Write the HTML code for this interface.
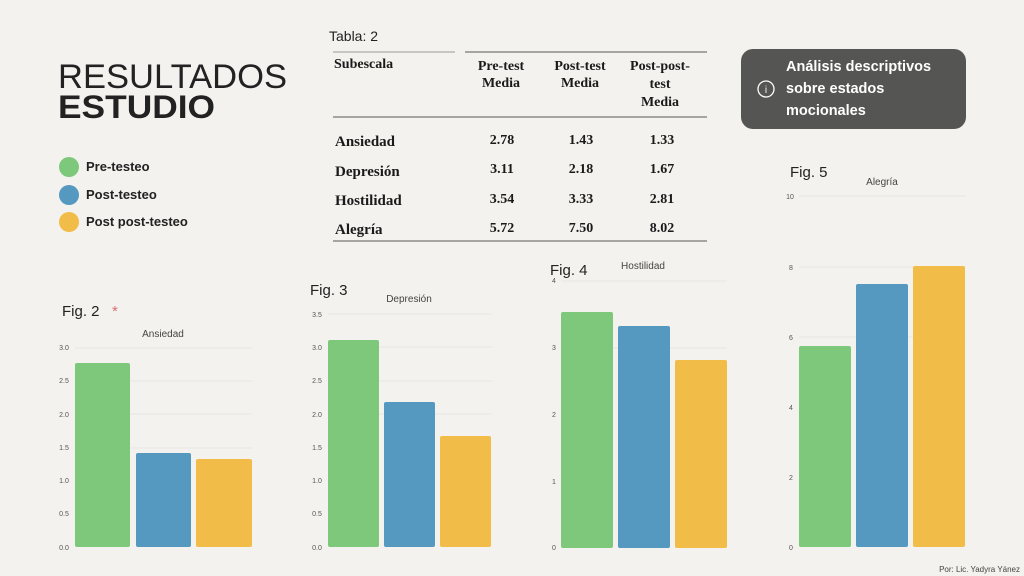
<!DOCTYPE html>
<html><head><meta charset="utf-8"><style>
html,body{margin:0;padding:0;background:#f4f2ee;}
svg{display:block;font-family:"Liberation Sans",sans-serif;}
.t{font-family:"Liberation Serif",serif;font-weight:bold;fill:#1a1a1a;}
.ax{font-size:7px;fill:#555;}
.g{stroke:#e8e6e2;stroke-width:1;}
</style></head><body>
<svg width="1024" height="576" viewBox="0 0 1024 576">
<rect width="1024" height="576" fill="#f4f2ee"/>
<text x="58" y="88" font-size="34" fill="#222" textLength="229" lengthAdjust="spacingAndGlyphs">RESULTADOS</text>
<text x="58" y="118" font-size="32" font-weight="bold" fill="#222" textLength="157" lengthAdjust="spacingAndGlyphs">ESTUDIO</text>
<circle cx="69" cy="167" r="10" fill="#7ec87b"/><text x="86" y="171" font-size="13" font-weight="bold" fill="#222">Pre-testeo</text>
<circle cx="69" cy="195" r="10" fill="#5598c0"/><text x="86" y="199" font-size="13" font-weight="bold" fill="#222">Post-testeo</text>
<circle cx="69" cy="222" r="10" fill="#f2bc48"/><text x="86" y="226" font-size="13" font-weight="bold" fill="#222">Post post-testeo</text>

<text x="329" y="41" font-size="14" fill="#222">Tabla: 2</text>
<line x1="333" y1="52" x2="455" y2="52" stroke="#999" stroke-width="1"/>
<line x1="465" y1="52" x2="707" y2="52" stroke="#777" stroke-width="1.3"/>
<text class="t" x="334" y="68" font-size="14">Subescala</text>
<g class="t" font-size="14" text-anchor="middle">
<text x="501" y="70">Pre-test</text><text x="501" y="87">Media</text>
<text x="580" y="70">Post-test</text><text x="580" y="87">Media</text>
<text x="660" y="70">Post-post-</text><text x="660" y="88">test</text><text x="660" y="106">Media</text>
</g>
<line x1="333" y1="117" x2="707" y2="117" stroke="#777" stroke-width="1.3"/>
<g class="t" font-size="15">
<text x="335" y="146">Ansiedad</text><text x="335" y="176">Depresión</text><text x="335" y="205">Hostilidad</text><text x="335" y="234">Alegría</text>
</g>
<g class="t" font-size="14" text-anchor="middle">
<text x="502" y="144">2.78</text><text x="581" y="144">1.43</text><text x="662" y="144">1.33</text>
<text x="502" y="173">3.11</text><text x="581" y="173">2.18</text><text x="662" y="173">1.67</text>
<text x="502" y="203">3.54</text><text x="581" y="203">3.33</text><text x="662" y="203">2.81</text>
<text x="502" y="232">5.72</text><text x="581" y="232">7.50</text><text x="662" y="232">8.02</text>
</g>
<line x1="333" y1="241" x2="707" y2="241" stroke="#777" stroke-width="1.3"/>

<rect x="741" y="49" width="225" height="80" rx="12" fill="#555554"/>
<circle cx="766" cy="89" r="8" fill="none" stroke="#fff" stroke-width="1.3"/>
<text x="766" y="93" font-size="10" fill="#fff" text-anchor="middle">i</text>
<g font-size="14.5" font-weight="bold" fill="#fff">
<text x="786" y="71">Análisis descriptivos</text><text x="786" y="93">sobre estados</text><text x="786" y="115">mocionales</text>
</g>

<text x="62" y="316" font-size="15" fill="#222">Fig. 2</text>
<text x="112" y="316" font-size="15" fill="#d97070">*</text>
<text x="163" y="337" font-size="10" fill="#444" text-anchor="middle">Ansiedad</text>
<g class="ax" text-anchor="middle">
<text x="64" y="350">3.0</text><text x="64" y="383">2.5</text><text x="64" y="417">2.0</text><text x="64" y="450">1.5</text><text x="64" y="483">1.0</text><text x="64" y="516">0.5</text><text x="64" y="550">0.0</text>
</g>
<g class="g"><line x1="75" y1="348" x2="252" y2="348"/><line x1="75" y1="381" x2="252" y2="381"/><line x1="75" y1="414" x2="252" y2="414"/><line x1="75" y1="448" x2="252" y2="448"/></g>
<rect x="75" y="363" width="55" height="184" rx="2" fill="#7ec87b"/>
<rect x="136" y="453" width="55" height="94" rx="2" fill="#5598c0"/>
<rect x="196" y="459" width="56" height="88" rx="2" fill="#f2bc48"/>

<text x="310" y="295" font-size="15" fill="#222">Fig. 3</text>
<text x="409" y="302" font-size="10" fill="#444" text-anchor="middle">Depresión</text>
<g class="ax" text-anchor="middle">
<text x="317" y="317">3.5</text><text x="317" y="350">3.0</text><text x="317" y="383">2.5</text><text x="317" y="417">2.0</text><text x="317" y="450">1.5</text><text x="317" y="483">1.0</text><text x="317" y="516">0.5</text><text x="317" y="550">0.0</text>
</g>
<g class="g"><line x1="328" y1="314" x2="492" y2="314"/><line x1="328" y1="347" x2="492" y2="347"/><line x1="328" y1="381" x2="492" y2="381"/><line x1="328" y1="414" x2="492" y2="414"/></g>
<rect x="328" y="340" width="51" height="207" rx="2" fill="#7ec87b"/>
<rect x="384" y="402" width="51" height="145" rx="2" fill="#5598c0"/>
<rect x="440" y="436" width="51" height="111" rx="2" fill="#f2bc48"/>

<text x="550" y="275" font-size="15" fill="#222">Fig. 4</text>
<text x="643" y="269" font-size="10" fill="#444" text-anchor="middle">Hostilidad</text>
<g class="ax" text-anchor="middle">
<text x="554" y="283">4</text><text x="554" y="350">3</text><text x="554" y="417">2</text><text x="554" y="484">1</text><text x="554" y="550">0</text>
</g>
<g class="g"><line x1="561" y1="281" x2="727" y2="281"/><line x1="561" y1="348" x2="727" y2="348"/></g>
<rect x="561" y="312" width="52" height="236" rx="2" fill="#7ec87b"/>
<rect x="618" y="326" width="52" height="222" rx="2" fill="#5598c0"/>
<rect x="675" y="360" width="52" height="188" rx="2" fill="#f2bc48"/>

<text x="790" y="177" font-size="15" fill="#222">Fig. 5</text>
<text x="882" y="185" font-size="10" fill="#444" text-anchor="middle">Alegría</text>
<g class="ax" text-anchor="middle">
<text x="790" y="199">10</text><text x="791" y="270">8</text><text x="791" y="340">6</text><text x="791" y="410">4</text><text x="791" y="480">2</text><text x="791" y="550">0</text>
</g>
<g class="g"><line x1="799" y1="196" x2="966" y2="196"/><line x1="799" y1="267" x2="966" y2="267"/><line x1="799" y1="337" x2="966" y2="337"/></g>
<rect x="799" y="346" width="52" height="201" rx="2" fill="#7ec87b"/>
<rect x="856" y="284" width="52" height="263" rx="2" fill="#5598c0"/>
<rect x="913" y="266" width="52" height="281" rx="2" fill="#f2bc48"/>

<text x="1020" y="572" font-size="8" fill="#444" text-anchor="end">Por: Lic. Yadyra Yánez</text>
</svg>
</body></html>
